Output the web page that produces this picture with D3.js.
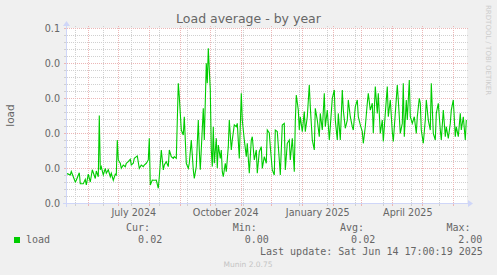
<!DOCTYPE html>
<html>
<head>
<meta charset="utf-8">
<script src="https://cdn.jsdelivr.net/npm/d3@7"></script>
<style>
  body { margin: 0; background: #f0f0f0; }
  svg { display: block; }
</style>
</head>
<body>
<div id="chart"></div>
<script>
// Sample dates and load values.
const dates = [
  "2024-05-10","2024-05-12","2024-05-14","2024-05-15","2024-05-17","2024-05-19","2024-05-20","2024-05-23","2024-05-24","2024-05-27","2024-05-29","2024-05-30",
  "2024-06-01","2024-06-03","2024-06-05","2024-06-08","2024-06-09","2024-06-11","2024-06-12","2024-06-13","2024-06-14","2024-06-16","2024-06-18","2024-06-19","2024-06-21","2024-06-23","2024-06-24","2024-06-26","2024-06-28","2024-06-29","2024-06-30",
  "2024-07-01","2024-07-03","2024-07-04","2024-07-06","2024-07-08","2024-07-09","2024-07-11","2024-07-13","2024-07-14","2024-07-16","2024-07-17","2024-07-20","2024-07-22","2024-07-24","2024-07-26","2024-07-27","2024-07-29","2024-07-31",
  "2024-08-01","2024-08-02","2024-08-04","2024-08-06","2024-08-08","2024-08-10","2024-08-11","2024-08-13","2024-08-15","2024-08-16","2024-08-18","2024-08-20","2024-08-21","2024-08-23","2024-08-25","2024-08-26","2024-08-28","2024-08-30","2024-08-31",
  "2024-09-02","2024-09-04","2024-09-05","2024-09-07","2024-09-09","2024-09-10","2024-09-12","2024-09-14","2024-09-15","2024-09-17","2024-09-19","2024-09-20","2024-09-21","2024-09-24","2024-09-25","2024-09-27","2024-09-28","2024-09-29",
  "2024-10-01","2024-10-02","2024-10-03","2024-10-04","2024-10-05","2024-10-07","2024-10-08","2024-10-09","2024-10-11","2024-10-12","2024-10-13","2024-10-14","2024-10-16","2024-10-17","2024-10-19","2024-10-20","2024-10-22","2024-10-23","2024-10-25","2024-10-27","2024-10-28","2024-10-30",
  "2024-11-01","2024-11-02","2024-11-04","2024-11-06","2024-11-07","2024-11-09","2024-11-11","2024-11-12","2024-11-14","2024-11-16","2024-11-17","2024-11-19","2024-11-21","2024-11-22","2024-11-24","2024-11-26","2024-11-27","2024-11-29","2024-11-30",
  "2024-12-02","2024-12-04","2024-12-05","2024-12-07","2024-12-09","2024-12-10","2024-12-12","2024-12-14","2024-12-15","2024-12-17","2024-12-19","2024-12-20","2024-12-22","2024-12-24","2024-12-25","2024-12-26","2024-12-28","2024-12-29","2024-12-30",
  "2025-01-01","2025-01-03","2025-01-04","2025-01-06","2025-01-08","2025-01-09","2025-01-11","2025-01-13","2025-01-14","2025-01-16","2025-01-18","2025-01-19","2025-01-21","2025-01-23","2025-01-24","2025-01-26","2025-01-28","2025-01-29","2025-01-31",
  "2025-02-02","2025-02-03","2025-02-05","2025-02-06","2025-02-08","2025-02-10","2025-02-11","2025-02-13","2025-02-15","2025-02-16","2025-02-18","2025-02-20","2025-02-21","2025-02-23","2025-02-25","2025-02-26","2025-02-28",
  "2025-03-02","2025-03-03","2025-03-05","2025-03-07","2025-03-08","2025-03-10","2025-03-12","2025-03-13","2025-03-15","2025-03-17","2025-03-18","2025-03-20","2025-03-22","2025-03-23","2025-03-25","2025-03-27","2025-03-28","2025-03-30",
  "2025-04-01","2025-04-02","2025-04-04","2025-04-06","2025-04-07","2025-04-09","2025-04-11","2025-04-12","2025-04-13","2025-04-15","2025-04-16","2025-04-18","2025-04-19","2025-04-21","2025-04-23","2025-04-25","2025-04-26","2025-04-28","2025-04-29","2025-04-30",
  "2025-05-02","2025-05-04","2025-05-05","2025-05-07","2025-05-09","2025-05-10","2025-05-12","2025-05-14","2025-05-15","2025-05-17","2025-05-19","2025-05-20","2025-05-22","2025-05-24","2025-05-25","2025-05-27","2025-05-29","2025-05-30",
  "2025-06-01","2025-06-03","2025-06-04","2025-06-06","2025-06-08","2025-06-09","2025-06-11","2025-06-13","2025-06-14"
];
const load = [
  0.0170,0.0165,0.0160,0.0180,0.0150,0.0120,0.0130,0.0173,0.0110,0.0110,0.0135,0.0103,
  0.0165,0.0120,0.0190,0.0140,0.0183,0.0150,0.0500,0.0190,0.0207,0.0160,0.0198,0.0170,0.0190,0.0150,0.0170,0.0130,0.0165,0.0160,0.0360,
  0.0246,0.0227,0.0198,0.0217,0.0207,0.0227,0.0236,0.0250,0.0217,0.0227,0.0255,0.0269,0.0198,0.0217,0.0208,0.0217,0.0227,0.0246,
  0.0370,0.0103,0.0131,0.0130,0.0131,0.0084,0.0150,0.0303,0.0189,0.0217,0.0236,0.0208,0.0303,0.0265,0.0255,0.0265,0.0255,0.0684,0.0608,
  0.0417,0.0389,0.0493,0.0227,0.0198,0.0227,0.0360,0.0189,0.0141,0.0208,0.0474,0.0300,0.0190,0.0541,0.0360,0.0798,0.0684,0.0884,
  0.0646,0.0303,0.0208,0.0436,0.0227,0.0370,0.0198,0.0331,0.0255,0.0303,0.0179,0.0150,0.0227,0.0179,0.0322,0.0474,0.0303,0.0360,0.0446,0.0436,0.0455,0.0255,
  0.0627,0.0474,0.0360,0.0265,0.0341,0.0170,0.0360,0.0379,0.0246,0.0303,0.0170,0.0293,0.0322,0.0198,0.0265,0.0227,0.0417,0.0400,0.0322,
  0.0189,0.0160,0.0417,0.0408,0.0246,0.0160,0.0446,0.0455,0.0189,0.0341,0.0360,0.0246,0.0370,0.0179,0.0465,0.0617,0.0531,0.0417,0.0493,
  0.0408,0.0522,0.0408,0.0493,0.0674,0.0550,0.0360,0.0303,0.0541,0.0474,0.0379,0.0512,0.0417,0.0627,0.0436,0.0531,0.0360,0.0436,0.0598,
  0.0646,0.0474,0.0360,0.0512,0.0360,0.0646,0.0531,0.0427,0.0474,0.0589,0.0493,0.0436,0.0417,0.0550,0.0589,0.0493,0.0446,
  0.0408,0.0341,0.0436,0.0570,0.0627,0.0531,0.0570,0.0398,0.0665,0.0512,0.0627,0.0398,0.0474,0.0351,0.0512,0.0665,0.0493,0.0589,
  0.0408,0.0351,0.0512,0.0674,0.0589,0.0398,0.0455,0.0684,0.0379,0.0589,0.0474,0.0703,0.0493,0.0455,0.0493,0.0398,0.0493,0.0598,0.0570,0.0417,
  0.0341,0.0474,0.0589,0.0474,0.0417,0.0684,0.0398,0.0360,0.0512,0.0570,0.0417,0.0360,0.0531,0.0379,0.0436,0.0369,0.0455,0.0531,
  0.0589,0.0379,0.0436,0.0379,0.0512,0.0417,0.0493,0.0360,0.0474
];

const timeStart = "2024-05-10 17:00";
const timeEnd = "2025-06-14 17:00";

const yTickValues = [0, 0.02, 0.04, 0.06, 0.08, 0.1];
const yTickLabels = ["0.0", "0.0", "0.0", "0.0", "0.0", "0.1"];
const monthLabelDates = ["2024-07-16", "2024-10-16", "2025-01-16", "2025-04-16"];
const monthLabels = ["July 2024", "October 2024", "January 2025", "April 2025"];

const legendHeads = ["Cur:", "Min:", "Avg:", "Max:"];
const legendValues = ["0.02", "0.00", "0.02", "2.00"];

const width = 497, height = 275;
const x0 = 67, y0 = 203, plotW = 400, plotH = 175;

const parseDay = d3.timeParse("%Y-%m-%d");
const parseTime = d3.timeParse("%Y-%m-%d %H:%M");
const rows = dates.map((d, i) => ({ date: parseDay(d), value: load[i] }));

const x = d3.scaleTime()
  .domain([parseTime(timeStart), parseTime(timeEnd)])
  .range([x0, x0 + plotW]);
const y = d3.scaleLinear()
  .domain([0, 0.1])
  .range([y0, y0 - plotH]);

const sans = "'DejaVu Sans', sans-serif";
const mono = "'DejaVu Sans Mono', monospace";
const fontColor = "#666666";
const axisColor = "#cfd6f8";
const minorColor = "#d0d0d0";
const majorColor = "#ecb6b6";

const svg = d3.select("#chart").append("svg")
  .attr("width", width)
  .attr("height", height);

svg.append("rect")
  .attr("width", width).attr("height", height)
  .attr("fill", "#f0f0f0");

// white canvas
svg.append("rect")
  .attr("x", x0).attr("y", y0 - plotH)
  .attr("width", plotW).attr("height", plotH)
  .attr("fill", "#ffffff");

// grid lines
const yMinor = d3.range(1, 25).filter(i => i % 5 !== 0).map(i => i * 0.004);
const yMajor = yTickValues;
const xMajor = d3.timeMonth.range(x.domain()[0], x.domain()[1]);
const xMinor = d3.timeSunday.range(new Date(2024, 4, 19), x.domain()[1], 4);

const grid = svg.append("g").attr("shape-rendering", "crispEdges");

function hGrid(values, color) {
  grid.selectAll(null).data(values).enter().append("line")
    .attr("x1", x0 - 2).attr("x2", x0 + plotW + 2)
    .attr("y1", d => Math.round(y(d)) + 0.5).attr("y2", d => Math.round(y(d)) + 0.5)
    .attr("stroke", color).attr("stroke-dasharray", "1,1");
  grid.selectAll(null).data(values).enter().append("line")
    .attr("x1", x0 - 3).attr("x2", x0 + 1)
    .attr("y1", d => Math.round(y(d)) + 0.5).attr("y2", d => Math.round(y(d)) + 0.5)
    .attr("stroke", color);
}
function vGrid(values, color) {
  grid.selectAll(null).data(values).enter().append("line")
    .attr("y1", y0 + 2).attr("y2", y0 - plotH - 2)
    .attr("x1", d => Math.round(x(d)) + 0.5).attr("x2", d => Math.round(x(d)) + 0.5)
    .attr("stroke", color).attr("stroke-dasharray", "1,1");
  grid.selectAll(null).data(values).enter().append("line")
    .attr("y1", y0 - 1).attr("y2", y0 + 3)
    .attr("x1", d => Math.round(x(d)) + 0.5).attr("x2", d => Math.round(x(d)) + 0.5)
    .attr("stroke", color);
}
hGrid(yMinor, minorColor);
vGrid(xMinor, minorColor);
hGrid(yMajor, majorColor);
vGrid(xMajor, majorColor);

// axes with arrows
svg.append("line")
  .attr("x1", x0 - 4).attr("x2", x0 + plotW + 4)
  .attr("y1", y0 + 0.5).attr("y2", y0 + 0.5)
  .attr("stroke", axisColor);
svg.append("line")
  .attr("x1", x0 - 0.5).attr("x2", x0 - 0.5)
  .attr("y1", y0 + 4).attr("y2", y0 - plotH - 4)
  .attr("stroke", axisColor);
svg.append("path")
  .attr("d", `M${x0 + plotW + 1},${y0 - 3}L${x0 + plotW + 1},${y0 + 4}L${x0 + plotW + 6},${y0 + 0.5}Z`)
  .attr("fill", axisColor);
svg.append("path")
  .attr("d", `M${x0 - 4},${y0 - plotH - 2}L${x0 + 3},${y0 - plotH - 2}L${x0 - 0.5},${y0 - plotH - 7}Z`)
  .attr("fill", axisColor);

// tick labels
const yAxis = svg.append("g")
  .attr("transform", `translate(${x0},0)`)
  .call(d3.axisLeft(y).tickValues(yTickValues).tickFormat((d, i) => yTickLabels[i]).tickSize(0).tickPadding(7));
const xAxis = svg.append("g")
  .attr("transform", `translate(0,${y0})`)
  .call(d3.axisBottom(x).tickValues(monthLabelDates.map(parseDay)).tickFormat((d, i) => monthLabels[i]).tickSize(0).tickPadding(5.7));
[yAxis, xAxis].forEach(g => {
  g.select(".domain").remove();
  g.selectAll("text").attr("fill", fontColor).attr("font-family", sans).attr("font-size", "9.6px");
});

// data line
svg.append("clipPath").attr("id", "clip")
  .append("rect").attr("x", x0).attr("y", y0 - plotH).attr("width", plotW).attr("height", plotH);

const line = d3.line()
  .x(d => x(d.date))
  .y(d => y(d.value));

svg.append("path")
  .datum(rows)
  .attr("clip-path", "url(#clip)")
  .attr("d", line)
  .attr("fill", "none")
  .attr("stroke", "#00cc00")
  .attr("stroke-width", 1.1)
  .attr("stroke-linejoin", "miter");

// title, axis title, watermark
svg.append("text")
  .attr("x", 248.5).attr("y", 23)
  .attr("text-anchor", "middle")
  .attr("font-family", sans).attr("font-size", "12.5px")
  .attr("fill", fontColor)
  .text("Load average - by year");

svg.append("text")
  .attr("transform", "translate(14,115.5) rotate(-90)")
  .attr("text-anchor", "middle")
  .attr("font-family", sans).attr("font-size", "10.5px")
  .attr("fill", fontColor)
  .text("load");

svg.append("text")
  .attr("transform", "translate(485.5,5) rotate(90)")
  .attr("font-family", sans).attr("font-size", "7px")
  .attr("fill", "#cccccc")
  .text("RRDTOOL / TOBI OETIKER");

// legend
const legend = svg.append("g")
  .attr("font-family", mono).attr("font-size", "10px")
  .attr("fill", fontColor);

legend.append("rect")
  .attr("x", 14).attr("y", 237).attr("width", 6).attr("height", 6)
  .attr("fill", "#00cc00");
legend.append("text").attr("x", 26).attr("y", 242.7).text("load");

const headX = [125.9, 232.8, 340, 446.5];
const valueX = [138.1, 244.8, 351.1, 458.2];
legend.selectAll(".head").data(legendHeads).enter().append("text")
  .attr("class", "head")
  .attr("x", (d, i) => headX[i]).attr("y", 230.5)
  .text(d => d);
legend.selectAll(".val").data(legendValues).enter().append("text")
  .attr("class", "val")
  .attr("x", (d, i) => valueX[i]).attr("y", 242.7)
  .text(d => d);

legend.append("text")
  .attr("x", 260).attr("y", 255)
  .text("Last update: Sat Jun 14 17:00:19 2025");

svg.append("text")
  .attr("x", 248).attr("y", 266.5)
  .attr("text-anchor", "middle")
  .attr("font-family", sans).attr("font-size", "7.5px")
  .attr("fill", "#c4c4c4")
  .text("Munin 2.0.75");
</script>
</body>
</html>
